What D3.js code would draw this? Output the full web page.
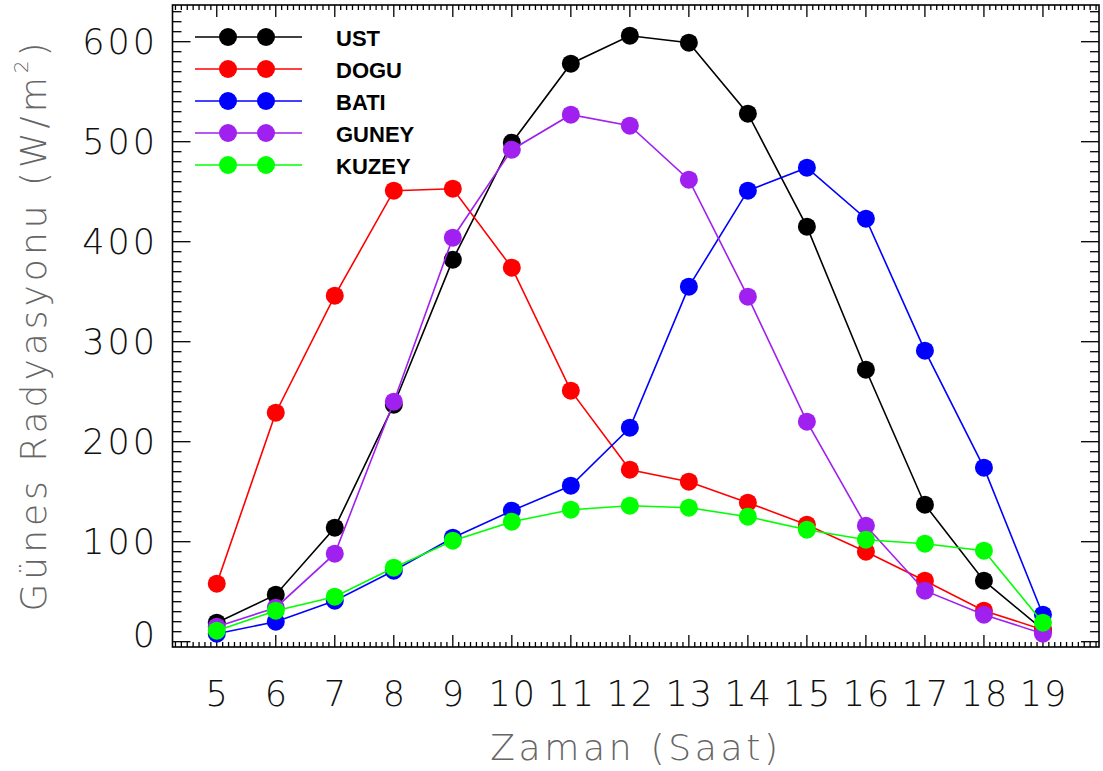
<!DOCTYPE html>
<html lang="tr">
<head>
<meta charset="utf-8">
<title>Gunes Radyasyonu</title>
<script src="https://d3js.org/d3.v7.min.js"></script>
<style>
  body { margin: 0; background: #fff; }
  svg { display: block; }
</style>
</head>
<body>
<div id="chart"></div>
<script>
// saatler ve seriler
var hours = [5, 6, 7, 8, 9, 10, 11, 12, 13, 14, 15, 16, 17, 18, 19]
var ust   = [19, 47, 114, 237, 382, 499, 578, 606, 599, 528, 415, 272, 137, 61, 12]
var dogu  = [58, 229, 346, 451, 453, 374, 251, 172, 160, 139, 117, 90, 61, 31, 12]
var bati  = [8, 20, 41, 71, 104, 131, 156, 214, 355, 451, 474, 423, 291, 174, 27]
var guney = [15, 34, 88, 240, 404, 492, 527, 516, 462, 345, 220, 116, 51, 27, 8]
var kuzey = [11, 31, 45, 74, 101, 120, 132, 136, 134, 125, 112, 102, 98, 91, 19]
var yTicks = [0, 100, 200, 300, 400, 500, 600]
var seriesNames = ["UST", "DOGU", "BATI", "GUNEY", "KUZEY"]

var series = [
    { values: ust, color: "#000000" },
    { values: dogu, color: "#ff0000" },
    { values: bati, color: "#0000ff" },
    { values: guney, color: "#a020f0" },
    { values: kuzey, color: "#00ff00" }
]

var width = 1103, height = 771
var pLeft = 172.5, pRight = 1099, pTop = 5, pBottom = 647

var svg = d3.select("#chart").append("svg")
    .attr("width", width)
    .attr("height", height)

var x = d3.scaleLinear().domain([4.25, 19.95]).range([pLeft, pRight])
var y = d3.scaleLinear().domain([-5.3, 636.7]).range([pBottom, pTop])

var tickFont = "'DejaVu Sans', sans-serif"

// cerceve
svg.append("rect")
    .attr("x", pLeft).attr("y", pTop)
    .attr("width", pRight - pLeft).attr("height", pBottom - pTop)
    .attr("fill", "none").attr("stroke", "#000").attr("stroke-width", 1.6)

// x tikleri (alt ve ust, iceri dogru)
var xMinor = d3.range(43, 200).map(function(d) { return d / 10 })
    .filter(function(d) { return d >= 4.25 && d <= 19.95 && Math.abs(d - Math.round(d)) > 0.01 })
var g = svg.append("g").attr("stroke", "#000").attr("stroke-width", 1.3)
xMinor.forEach(function(d) {
    g.append("line").attr("x1", x(d)).attr("x2", x(d)).attr("y1", pBottom).attr("y2", pBottom - 5)
    g.append("line").attr("x1", x(d)).attr("x2", x(d)).attr("y1", pTop).attr("y2", pTop + 5)
})
hours.forEach(function(d) {
    g.append("line").attr("x1", x(d)).attr("x2", x(d)).attr("y1", pBottom).attr("y2", pBottom - 12)
    g.append("line").attr("x1", x(d)).attr("x2", x(d)).attr("y1", pTop).attr("y2", pTop + 12)
})

// y tikleri (sol ve sag)
var yMinor = d3.range(0, 64).map(function(d) { return d * 10 })
    .filter(function(d) { return d % 100 != 0 && d <= 636 })
yMinor.forEach(function(d) {
    g.append("line").attr("x1", pLeft).attr("x2", pLeft + 9).attr("y1", y(d)).attr("y2", y(d))
    g.append("line").attr("x1", pRight).attr("x2", pRight - 9).attr("y1", y(d)).attr("y2", y(d))
})
yTicks.forEach(function(d) {
    g.append("line").attr("x1", pLeft).attr("x2", pLeft + 18).attr("y1", y(d)).attr("y2", y(d))
    g.append("line").attr("x1", pRight).attr("x2", pRight - 18).attr("y1", y(d)).attr("y2", y(d))
})

// tik etiketleri
svg.selectAll(".xl").data(hours).enter().append("text")
    .attr("x", function(d) { return x(d) + 1 })
    .attr("y", 694)
    .attr("text-anchor", "middle")
    .attr("dominant-baseline", "central")
    .style("font-family", tickFont).style("font-weight", 200)
    .style("font-size", "35px").style("letter-spacing", "2px").attr("fill", "#111")
    .text(function(d) { return d })

svg.selectAll(".yl").data(yTicks).enter().append("text")
    .attr("x", 158)
    .attr("y", function(d) { return Math.min(y(d), pBottom - 12) })
    .attr("text-anchor", "end")
    .attr("dominant-baseline", "central")
    .style("font-family", tickFont).style("font-weight", 200)
    .style("font-size", "35px").style("letter-spacing", "3px").attr("fill", "#111")
    .text(function(d) { return d })

// eksen basliklari
svg.append("text")
    .attr("x", 636).attr("y", 747)
    .attr("text-anchor", "middle")
    .attr("dominant-baseline", "central")
    .style("font-family", tickFont).style("font-weight", 200)
    .style("font-size", "36px").style("letter-spacing", "3.7px").attr("fill", "#666")
    .text("Zaman (Saat)")

var yt = svg.append("text")
    .attr("transform", "translate(33,325) rotate(-90)")
    .attr("text-anchor", "middle")
    .attr("dominant-baseline", "central")
    .style("font-family", tickFont).style("font-weight", 200)
    .style("font-size", "36px").style("letter-spacing", "4px").attr("fill", "#666")
yt.append("tspan").text("Günes Radyasyonu (W/m")
yt.append("tspan").attr("dy", -12).style("font-size", "20px").text("2")
yt.append("tspan").attr("dy", 12).text(")")

// seriler
var line = d3.line()
    .x(function(d, i) { return x(hours[i]) })
    .y(function(d) { return y(d) })

series.forEach(function(s) {
    svg.append("path")
        .attr("d", line(s.values))
        .attr("fill", "none")
        .attr("stroke", s.color)
        .attr("stroke-width", 1.6)
    svg.selectAll(null).data(s.values).enter().append("circle")
        .attr("cx", function(d, i) { return x(hours[i]) })
        .attr("cy", function(d) { return y(d) })
        .attr("r", 9)
        .attr("fill", s.color)
})

// lejant
var leg = svg.append("g")
series.forEach(function(s, i) {
    var ly = 37 + i * 32
    leg.append("line").attr("x1", 195).attr("x2", 302).attr("y1", ly).attr("y2", ly)
        .attr("stroke", s.color).attr("stroke-width", 1.6)
    leg.append("circle").attr("cx", 228).attr("cy", ly).attr("r", 9).attr("fill", s.color)
    leg.append("circle").attr("cx", 266).attr("cy", ly).attr("r", 9).attr("fill", s.color)
    leg.append("text")
        .attr("x", 336).attr("y", ly + 1)
        .attr("dominant-baseline", "central")
        .style("font-family", "'Liberation Sans Narrow', 'Liberation Sans', sans-serif")
        .style("font-weight", "bold").style("font-size", "22px")
        .attr("fill", "#000")
        .text(seriesNames[i])
})
</script>
</body>
</html>
